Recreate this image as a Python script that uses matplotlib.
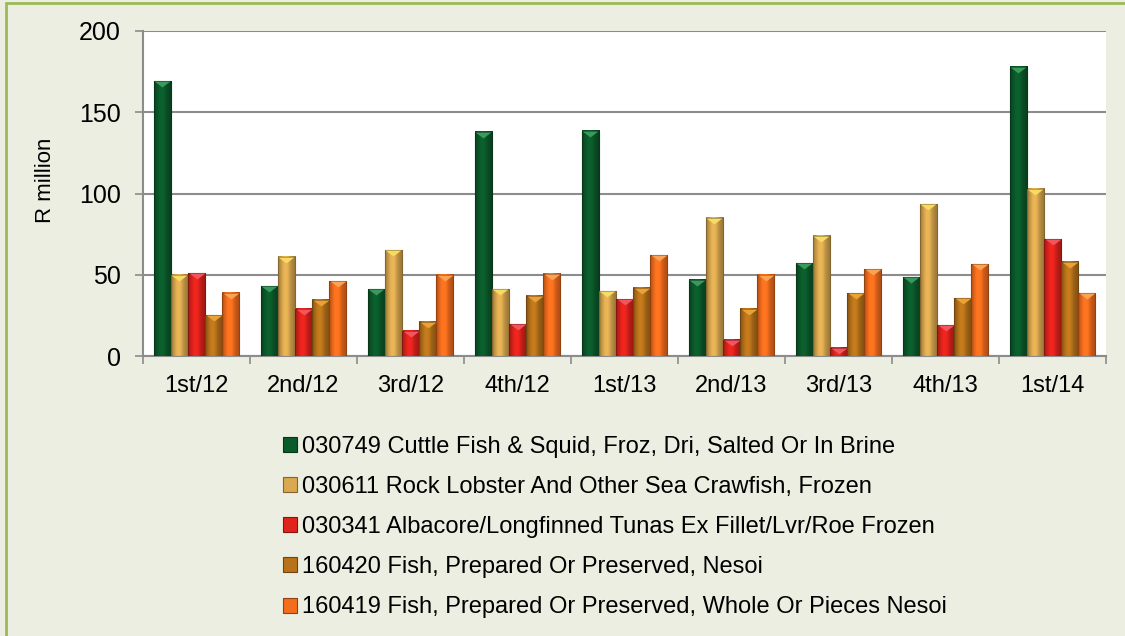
import numpy as np
import matplotlib.pyplot as plt
from matplotlib.patches import Patch, Rectangle
from matplotlib.path import Path
from matplotlib.colors import to_rgb

plt.rcParams['font.family'] = ['Liberation Sans', 'DejaVu Sans']

quarters = ["1st/12", "2nd/12", "3rd/12", "4th/12", "1st/13",
            "2nd/13", "3rd/13", "4th/13", "1st/14"]

labels = [
    "030749 Cuttle Fish & Squid, Froz, Dri, Salted Or In Brine",
    "030611 Rock Lobster And Other Sea Crawfish, Frozen",
    "030341 Albacore/Longfinned Tunas Ex Fillet/Lvr/Roe Frozen",
    "160420 Fish, Prepared Or Preserved, Nesoi",
    "160419 Fish, Prepared Or Preserved, Whole Or Pieces Nesoi",
]

cuttle = [169, 43, 41, 138, 138.5, 47, 57, 48.5, 178]
lobster = [50, 61, 65, 41, 40, 85, 74, 93.5, 103]
tuna = [51, 29, 15.5, 19.5, 35, 10, 5, 19, 72]
prepared = [25, 34.5, 21, 37, 42, 29, 38.5, 35.5, 58]
whole = [39, 46, 50, 50.5, 62, 50, 53.5, 56.5, 38.5]

series = [cuttle, lobster, tuna, prepared, whole]

base_colors = ["#0b5a2a", "#d9a84f", "#e0231c", "#b8731a", "#f36d1d"]
tip_colors = ["#3a9a5e", "#f6dc60", "#f25560", "#eba235", "#f9a354"]

bg = "#ebeee0"

fig = plt.figure(figsize=(11.25, 6.36), dpi=100)
fig.patch.set_facecolor(bg)
ax = fig.add_axes([143 / 1125, 1 - 356 / 636, 963 / 1125, 325 / 636])
ax.set_facecolor("white")

n = len(series)
group_w = 0.8
bw = group_w / n
x = np.arange(len(quarters))

ax.set_xlim(-0.5, len(quarters) - 0.5)
ax.set_ylim(0, 200)

# bar width in points, used for the bevel triangles on top
ax_w_px = ax.get_position().width * fig.get_figwidth() * fig.dpi
bw_pt = bw / len(quarters) * ax_w_px * 72 / fig.dpi

tri = Path([(-1, 0), (1, 0), (0, -0.75), (-1, 0)],
           [Path.MOVETO, Path.LINETO, Path.LINETO, Path.CLOSEPOLY])


def shade(c, f):
    r, g, b = to_rgb(c)
    return (r * f, g * f, b * f)


for i, (vals, col, tip) in enumerate(zip(series, base_colors, tip_colors)):
    xs = x - group_w / 2 + bw * (i + 0.5)
    # horizontal gradient: darker at the sides, brighter just left of centre
    prof = np.linspace(0, 1, 32)
    fac = 0.72 + 0.38 * np.exp(-((prof - 0.42) / 0.3) ** 2)
    fac = np.clip(fac, 0, 1.08)
    rgb = np.array(to_rgb(col))
    img = np.clip(rgb[None, :] * fac[:, None], 0, 1)[None, :, :]
    for xi, v in zip(xs, vals):
        ax.imshow(img, extent=(xi - bw / 2, xi + bw / 2, 0, v),
                  aspect="auto", interpolation="bilinear", zorder=3)
        ax.add_patch(Rectangle((xi - bw / 2, 0), bw, v, fill=False,
                               edgecolor=shade(col, 0.6), lw=0.8, zorder=4))
    ax.scatter(xs, vals, marker=tri, s=(bw_pt * 0.92) ** 2, color=tip,
               linewidths=0, zorder=5)

ax.set_xlim(-0.5, len(quarters) - 0.5)
ax.set_ylim(0, 200)

ax.set_yticks([0, 50, 100, 150, 200])
ax.yaxis.grid(True, color="#8c8c8c", lw=1.5)
ax.set_axisbelow(True)
ax.set_xticks(np.arange(len(quarters) + 1) - 0.5, minor=False)
ax.set_xticklabels([])
ax.set_xticks(x, minor=True)
ax.set_xticklabels(quarters, minor=True)
ax.tick_params(axis="x", which="major", length=6, color="#8c8c8c", width=1.2)
ax.tick_params(axis="x", which="minor", length=0, pad=14, labelsize=17)
ax.tick_params(axis="y", length=6, color="#8c8c8c", width=1.2, labelsize=18, pad=10)

for s in ["top", "right"]:
    ax.spines[s].set_visible(False)
for s in ["left", "bottom"]:
    ax.spines[s].set_color("#8c8c8c")
    ax.spines[s].set_linewidth(1.5)

ax.set_ylabel("R million", fontsize=16)
ax.yaxis.set_label_coords(-0.09, 0.54)

handles = [Patch(facecolor=c, edgecolor=shade(c, 0.6), lw=0.8) for c in base_colors]
fig.legend(handles, labels, loc="upper left", bbox_to_anchor=(0.2516, 0.315),
           frameon=False, fontsize=17, handlelength=0.6, handleheight=0.6,
           handletextpad=0.22, labelspacing=0.77, borderpad=0, borderaxespad=0)

# green frame round the chart area
fig.add_artist(Rectangle((0.005, -0.1), 1.2, 1.095, transform=fig.transFigure,
                         fill=False, edgecolor="#9bbb59", lw=2))

fig.savefig("out.png", dpi=100, facecolor=bg)
